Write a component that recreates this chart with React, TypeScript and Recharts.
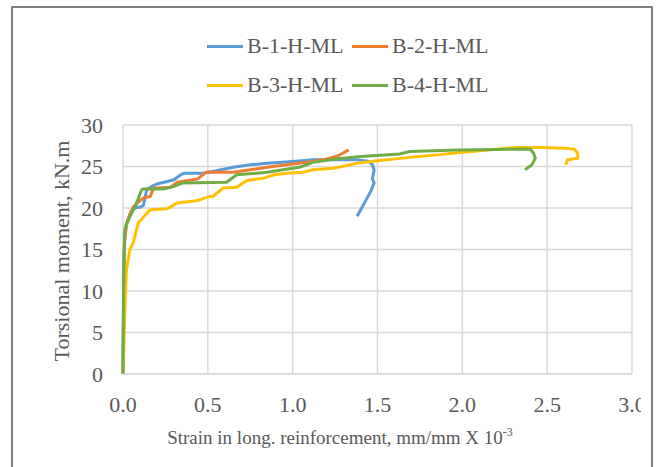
import { LineChart, Line, XAxis, YAxis, CartesianGrid } from 'recharts';

// Strain (mm/mm x 10^-3) and torsional moment (kN.m) readings per beam
const b1Strain = [0, 0.005, 0.01, 0.02, 0.04, 0.06, 0.08, 0.1, 0.12, 0.14, 0.17, 0.2, 0.26, 0.3, 0.34, 0.36, 0.47, 0.55, 0.65, 0.75, 0.85, 1.0, 1.12, 1.25, 1.38, 1.45, 1.47, 1.48, 1.47, 1.48, 1.46, 1.42, 1.38];
const b1Moment = [0, 14, 16.5, 18, 19.2, 19.8, 20.1, 20.1, 20.3, 22.2, 22.6, 22.9, 23.2, 23.4, 24.0, 24.2, 24.2, 24.5, 24.9, 25.2, 25.4, 25.6, 25.8, 25.8, 25.8, 25.6, 25.2, 24.6, 23.5, 23.0, 22.0, 20.5, 19.0];

const b2Strain = [0, 0.005, 0.01, 0.02, 0.04, 0.06, 0.09, 0.12, 0.16, 0.18, 0.28, 0.32, 0.44, 0.49, 0.65, 0.75, 0.85, 1.0, 1.12, 1.2, 1.27, 1.33];
const b2Moment = [0, 13, 16, 18, 19.2, 20.1, 20.7, 21.2, 21.4, 22.4, 22.5, 23.1, 23.5, 24.3, 24.3, 24.6, 24.9, 25.3, 25.6, 25.9, 26.3, 27.0];

const b3Strain = [0, 0.005, 0.01, 0.02, 0.04, 0.06, 0.09, 0.12, 0.16, 0.26, 0.32, 0.44, 0.51, 0.53, 0.59, 0.67, 0.73, 0.83, 0.89, 0.97, 1.06, 1.12, 1.24, 1.38, 1.5, 1.69, 1.85, 1.99, 2.15, 2.32, 2.47, 2.6, 2.66, 2.68, 2.68, 2.62, 2.61];
const b3Moment = [0, 3, 7, 12.5, 15, 15.8, 18.2, 18.9, 19.8, 19.9, 20.6, 20.9, 21.4, 21.4, 22.4, 22.5, 23.3, 23.6, 24.0, 24.2, 24.3, 24.6, 24.8, 25.4, 25.7, 26.1, 26.4, 26.7, 27.0, 27.3, 27.3, 27.2, 27.1, 26.6, 26.0, 25.8, 25.2];

const b4Strain = [0, 0.003, 0.01, 0.02, 0.04, 0.08, 0.11, 0.12, 0.24, 0.3, 0.35, 0.61, 0.67, 0.85, 0.97, 1.04, 1.12, 1.25, 1.4, 1.63, 1.69, 1.97, 2.2, 2.4, 2.42, 2.43, 2.41, 2.37];
const b4Moment = [0, 10, 17.3, 18.0, 18.9, 20.6, 22.2, 22.3, 22.3, 22.6, 23.0, 23.1, 24.0, 24.3, 24.7, 24.9, 25.5, 25.9, 26.2, 26.5, 26.8, 27.0, 27.05, 27.1, 26.6, 26.0, 25.2, 24.6];

const xTicks = [0, 0.5, 1, 1.5, 2, 2.5, 3];
const yTicks = [0, 5, 10, 15, 20, 25, 30];

const pair = (xs: number[], ys: number[]) => xs.map((x, i) => ({ x, y: ys[i] }));

const series = [
  { name: 'B-1-H-ML', color: '#5b9bd5', data: pair(b1Strain, b1Moment) },
  { name: 'B-2-H-ML', color: '#ed7d31', data: pair(b2Strain, b2Moment) },
  { name: 'B-3-H-ML', color: '#ffc000', data: pair(b3Strain, b3Moment) },
  { name: 'B-4-H-ML', color: '#70ad47', data: pair(b4Strain, b4Moment) },
];

const FONT = 'Liberation Serif, DejaVu Serif, Noto Serif, serif';
const TEXT = '#595959';

function LegendItem({ name, color, left, top }: { name: string; color: string; left: number; top: number }) {
  return (
    <div style={{ position: 'absolute', left, top, display: 'flex', alignItems: 'center', height: 24 }}>
      <div style={{ width: 36, height: 3, background: color, marginRight: 4 }} />
      <span style={{ fontFamily: FONT, fontSize: 22, color: TEXT, whiteSpace: 'nowrap' }}>{name}</span>
    </div>
  );
}

export default function App() {
  return (
    <div style={{ position: 'absolute', left: 0, top: 0, width: 657, height: 467, background: '#fff', overflow: 'hidden' }}>
      <div style={{ position: 'absolute', left: 0, top: 0, width: 641, height: 467, overflow: 'hidden' }}>
        <LineChart width={657} height={467} margin={{ top: 125, right: 25, bottom: 63, left: 63 }}>
          <CartesianGrid stroke="#d9d9d9" strokeWidth={1.5} />
          <XAxis
            dataKey="x"
            type="number"
            domain={[0, 3]}
            ticks={xTicks}
            tickFormatter={(v: number) => v.toFixed(1)}
            axisLine={{ stroke: '#d9d9d9', strokeWidth: 1.5 }}
            tickLine={false}
            tickMargin={16}
            tick={{ fill: TEXT, fontSize: 22, fontFamily: FONT }}
            allowDuplicatedCategory={false}
          />
          <YAxis
            dataKey="y"
            type="number"
            domain={[0, 30]}
            ticks={yTicks}
            width={60}
            axisLine={false}
            tickLine={false}
            tickMargin={14}
            tick={{ fill: TEXT, fontSize: 22, fontFamily: FONT }}
          />
          {series.map((s) => (
            <Line
              key={s.name}
              data={s.data}
              dataKey="y"
              name={s.name}
              type="linear"
              stroke={s.color}
              strokeWidth={3}
              dot={false}
              isAnimationActive={false}
            />
          ))}
        </LineChart>
      </div>

      <LegendItem name={series[0].name} color={series[0].color} left={207} top={34} />
      <LegendItem name={series[1].name} color={series[1].color} left={352} top={34} />
      <LegendItem name={series[2].name} color={series[2].color} left={207} top={73} />
      <LegendItem name={series[3].name} color={series[3].color} left={352} top={73} />

      <div
        style={{
          position: 'absolute',
          left: 62,
          top: 251,
          transform: 'translate(-50%, -50%) rotate(-90deg)',
          fontFamily: FONT,
          fontSize: 22,
          color: TEXT,
          whiteSpace: 'nowrap',
        }}
      >
        Torsional moment, kN.m
      </div>

      <div
        style={{
          position: 'absolute',
          left: 340,
          top: 437,
          transform: 'translate(-50%, -50%)',
          fontFamily: FONT,
          fontSize: 19,
          color: TEXT,
          whiteSpace: 'nowrap',
        }}
      >
        Strain in long. reinforcement, mm/mm X 10<sup style={{ fontSize: 12 }}>-3</sup>
      </div>

      <div
        style={{
          position: 'absolute',
          left: 11,
          top: 6,
          width: 638,
          height: 480,
          border: '2px solid #7f7f7f',
          pointerEvents: 'none',
        }}
      />
    </div>
  );
}
